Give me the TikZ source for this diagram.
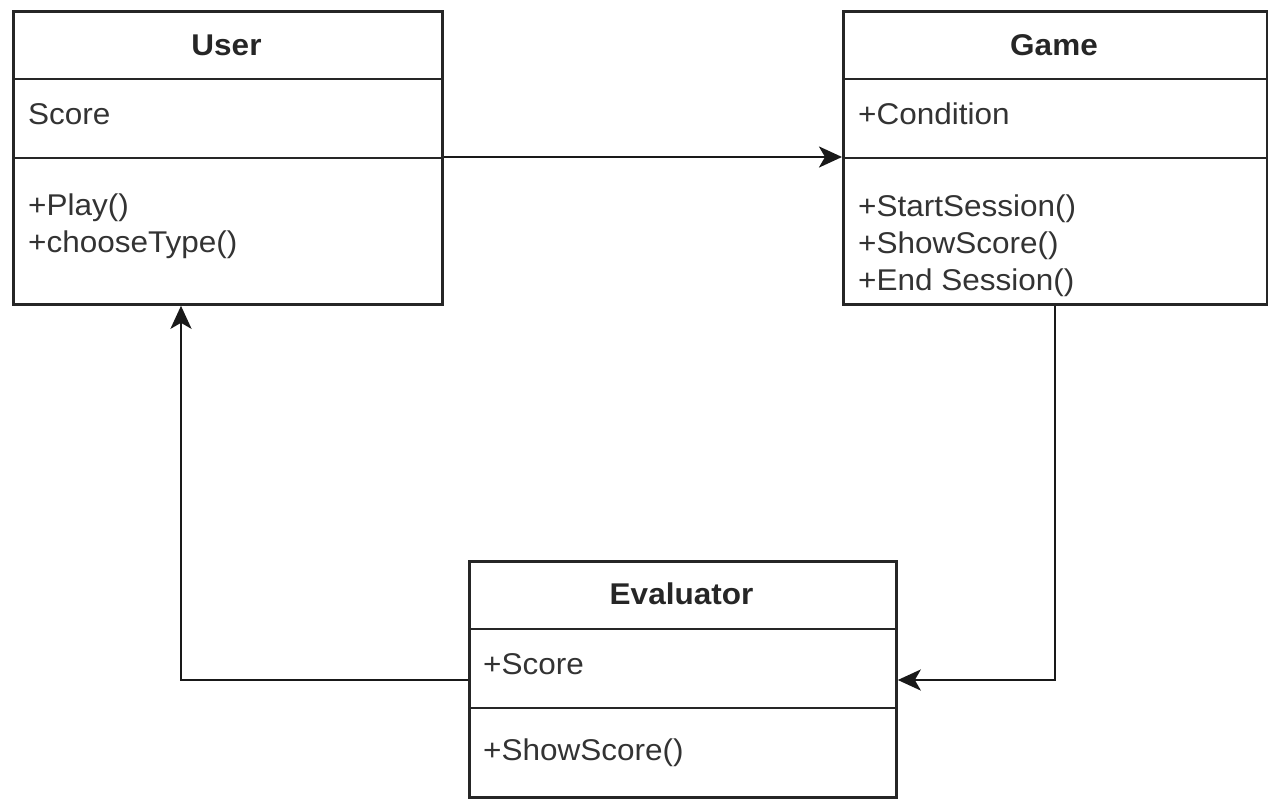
\documentclass[tikz,border=0pt]{standalone}
\usepackage{fontspec}
\setmainfont{Liberation Sans}[FakeStretch=1.05]
\usetikzlibrary{arrows.meta}
\begin{document}
\begin{tikzpicture}[x=1pt,y=-1pt,
  box/.style={draw=black!85, line width=2.8pt, anchor=north west, inner sep=0pt},
  sep/.style={draw=black!85, line width=2.8pt},
  title/.style={font=\fontsize{30}{36}\selectfont\bfseries, text=black!85, inner sep=0pt},
  item/.style={font=\fontsize{30}{37}\selectfont, text=black!80, anchor=west, align=left, inner sep=0pt},
  conn/.style={draw=black!90, line width=2.8pt, -{Stealth[length=23pt,width=21pt,inset=6pt]}}]
\useasboundingbox (0,0) rectangle (1268,798);

% User
\node[box, minimum width=429pt, minimum height=293pt] (user) at (12,10) {};
\draw[sep] ([yshift=-69pt]user.north west) -- ([yshift=-69pt]user.north east);
\draw[sep] ([yshift=-148pt]user.north west) -- ([yshift=-148pt]user.north east);
\node[title] (usertitle) at (226.5,45) {User};
\node[item] (userattr) at (28,114) {Score};
\node[item] (userops) at (28,226) {+Play()\\+chooseType()};

% Game
\node[box, minimum width=424pt, minimum height=293pt] (game) at (842,10) {};
\draw[sep] ([yshift=-69pt]game.north west) -- ([yshift=-69pt]game.north east);
\draw[sep] ([yshift=-148pt]game.north west) -- ([yshift=-148pt]game.north east);
\node[title] (gametitle) at (1054,45) {Game};
\node[item] (gameattr) at (858,114) {+Condition};
\node[item] (gameops) at (858,246) {+StartSession()\\+ShowScore()\\+End Session()};

% Evaluator
\node[box, minimum width=427pt, minimum height=236pt] (eval) at (468,560) {};
\draw[sep] ([yshift=-69pt]eval.north west) -- ([yshift=-69pt]eval.north east);
\draw[sep] ([yshift=-148pt]eval.north west) -- ([yshift=-148pt]eval.north east);
\node[title] (evaltitle) at (681.5,594) {Evaluator};
\node[item] (evalattr) at (483,664) {+Score};
\node[item] (evalops) at (483,753) {+ShowScore()};

% Connectors
\draw[conn] ([yshift=-147pt]user.north east) -- ([yshift=-147pt]game.north west);
\draw[conn] ([xshift=213pt]game.south west) |- ([yshift=-120pt]eval.north east);
\draw[conn] ([yshift=-120pt]eval.north west) -| ([xshift=169pt]user.south west);
\end{tikzpicture}
\end{document}
